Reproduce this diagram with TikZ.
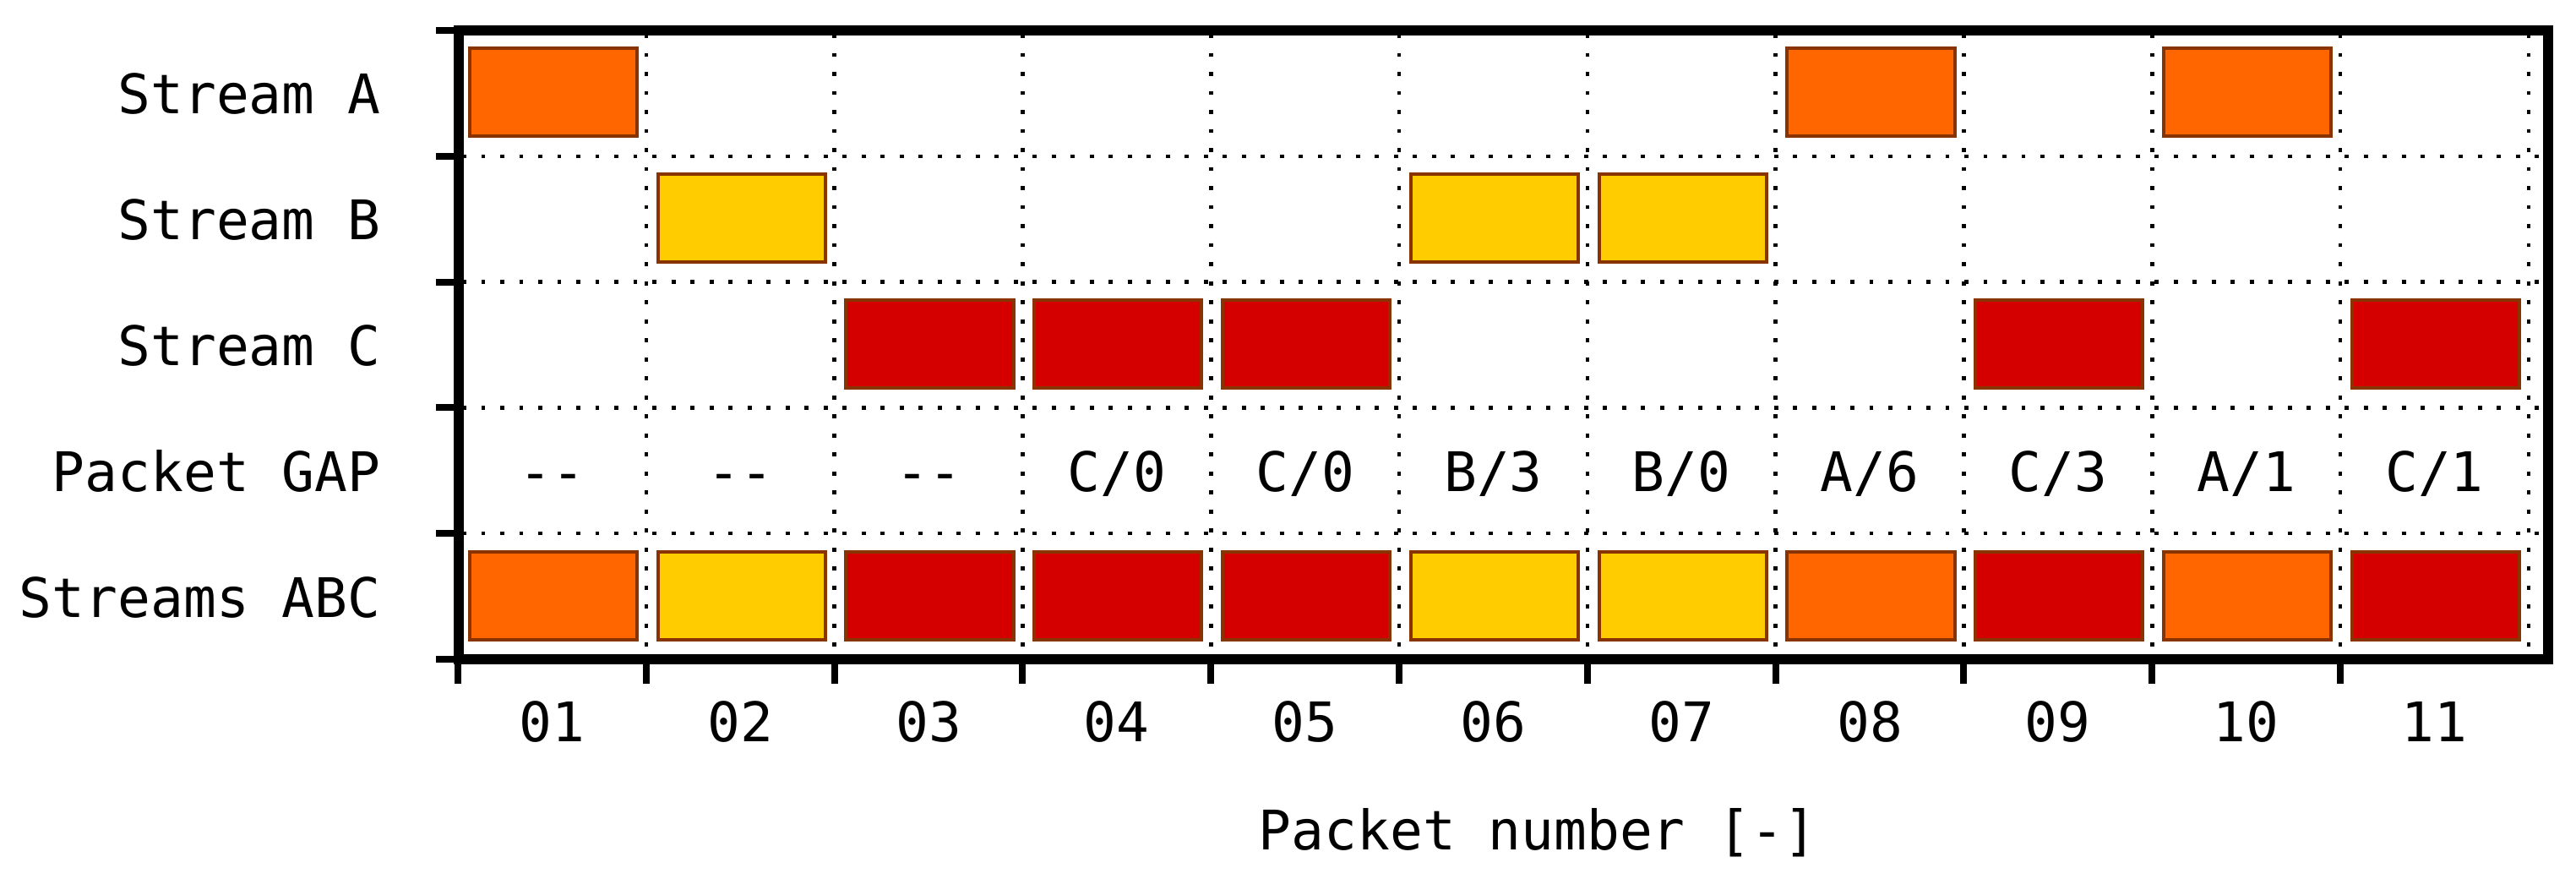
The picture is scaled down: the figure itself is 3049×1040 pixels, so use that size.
\documentclass[tikz,border=0pt]{standalone}
\usepackage{fontspec}
\setmonofont{DejaVu Sans Mono}
\definecolor{pO}{HTML}{FF6600}
\definecolor{pY}{HTML}{FFCC00}
\definecolor{pR}{HTML}{D40000}
\definecolor{pedge}{HTML}{883300}
\begin{document}
\begin{tikzpicture}[x=0.01cm,y=-0.01cm,
  lab/.style={font=\fontsize{18.35}{22}\selectfont\ttfamily, inner sep=0pt, anchor=base},
  rowlab/.style={lab, anchor=base east},
  pkt/.style={draw=pedge, line width=1.14pt, minimum width=1.98cm, minimum height=1.04cm, inner sep=0pt},
  gridl/.style={line width=1.3pt, dash pattern=on 1.4pt off 5pt},
  tickl/.style={line width=2.28pt},
  framel/.style={line width=3.4pt}]
\useasboundingbox (0,0) rectangle (3049,1040);
% grid
\foreach \k in {1,...,11} \draw[gridl] ({542+\k*222.8},40) -- ({542+\k*222.8},776);
\foreach \k in {1,...,4} \draw[gridl] (547,{36+\k*148.8}) -- (3012,{36+\k*148.8});
% ticks
\foreach \k in {0,...,5} \draw[tickl] (516,{36+\k*148.8}) -- (543,{36+\k*148.8});
\foreach \k in {0,...,10} \draw[tickl] ({542+\k*222.8},780) -- ({542+\k*222.8},809);
% packets
\foreach \r/\i/\c in {1/1/pO,1/8/pO,1/10/pO,
                      2/2/pY,2/6/pY,2/7/pY,
                      3/3/pR,3/4/pR,3/5/pR,3/9/pR,3/11/pR,
                      5/1/pO,5/2/pY,5/3/pR,5/4/pR,5/5/pR,5/6/pY,5/7/pY,5/8/pO,5/9/pR,5/10/pO,5/11/pR}
  \node[pkt, fill=\c] (p\r-\i) at ({542+(\i-0.5)*222.8+1.5},{36+(\r-0.5)*148.8-1}) {};
% frame
\draw[framel] (543,36) rectangle (3016,780);
% row labels
\node[rowlab] (lA) at (451,{36+0.5*148.8+24.6}) {Stream A};
\node[rowlab] (lB) at (451,{36+1.5*148.8+24.6}) {Stream B};
\node[rowlab] (lC) at (451,{36+2.5*148.8+24.6}) {Stream C};
\node[rowlab] (lG) at (451,{36+3.5*148.8+24.6}) {Packet GAP};
\node[rowlab] (lS) at (451,{36+4.5*148.8+24.6}) {Streams ABC};
% gap labels
\foreach \i/\t in {1/{-{}-},2/{-{}-},3/{-{}-},4/{C/0},5/{C/0},6/{B/3},7/{B/0},8/{A/6},9/{C/3},10/{A/1},11/{C/1}}
  \node[lab] (g\i) at ({542+(\i-0.5)*222.8},{36+3.5*148.8+24.6}) {\t};
% x tick labels
\foreach \i/\t in {1/01,2/02,3/03,4/04,5/05,6/06,7/07,8/08,9/09,10/10,11/11}
  \node[lab] (x\i) at ({542+(\i-0.5)*222.8},877) {\t};
\node[lab] (xl) at (1820,1005) {Packet number [-]};
\end{tikzpicture}
\end{document}
